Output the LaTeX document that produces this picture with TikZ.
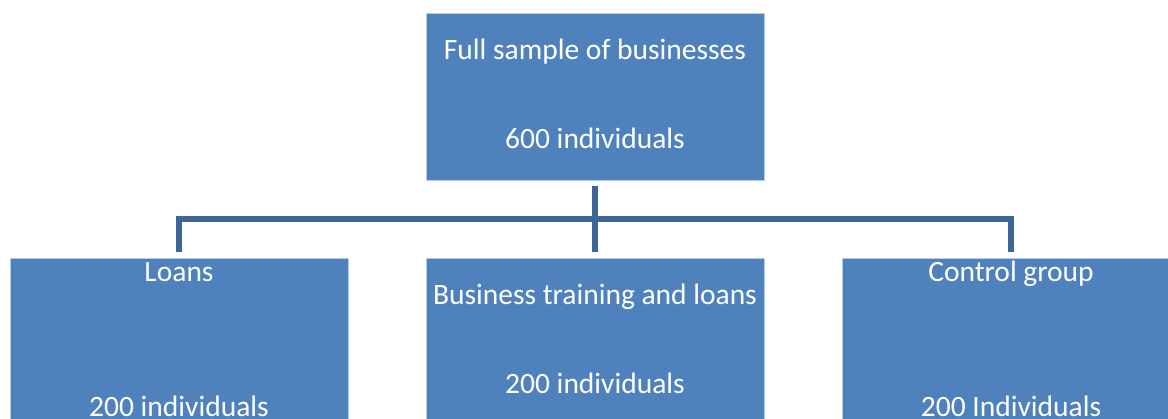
\documentclass[tikz,border=0pt]{standalone}
\usepackage{fontspec}
\setmainfont{Carlito}
\definecolor{boxblue}{HTML}{4F81BD}
\definecolor{linkblue}{HTML}{3D6697}
\definecolor{edgeblue}{HTML}{B9CDE5}
\begin{document}
\begin{tikzpicture}[x=1pt,y=-1pt,
  unitbox/.style={rectangle,fill=boxblue,draw=edgeblue,line width=0.6pt,
    minimum width=338pt,inner sep=0pt},
  topbox/.style={unitbox,minimum height=166.5pt},
  groupbox/.style={unitbox,minimum height=161pt},
  lbl/.style={anchor=base,text=white,inner sep=0pt,
    font=\fontsize{29.5}{35}\selectfont},
  link/.style={draw=linkblue,line width=5.5pt,line join=miter,line cap=butt}]
\useasboundingbox (0,0) rectangle (1168,419);
\clip (0,0) rectangle (1168,419);

% boxes (y grows downwards in this picture; yshift stays upwards)
\node[topbox,anchor=north] (full) at (595,13.5) {};
\node[groupbox,anchor=north] (loans) at (179,257.7) {};
\node[groupbox,anchor=north] (train) at (595,257.7) {};
\node[groupbox,anchor=north] (ctrl) at (1011,257.7) {};

% labels
\node[lbl] (fullA) at ([yshift=-46.5pt]full.north) {Full sample of businesses};
\node[lbl] (fullB) at ([yshift=-135.5pt]full.north) {600 individuals};
\node[lbl] (loansA) at ([yshift=-24pt]loans.north) {Loans};
\node[lbl] (loansB) at ([yshift=-159pt]loans.north) {200 individuals};
\node[lbl] (trainA) at ([yshift=-46.6pt]train.north) {Business training and loans};
\node[lbl] (trainB) at ([yshift=-136pt]train.north) {200 individuals};
\node[lbl] (ctrlA) at ([yshift=-24pt]ctrl.north) {Control group};
\node[lbl] (ctrlB) at ([yshift=-159pt]ctrl.north) {200 Individuals};

% connectors
\coordinate (bus) at (595,219);
\draw[link] ([yshift=-5pt]full.south) -- ([yshift=6pt]train.north);
\draw[link] ([yshift=6pt]loans.north) |- (bus) -| ([yshift=6pt]ctrl.north);
\end{tikzpicture}
\end{document}
